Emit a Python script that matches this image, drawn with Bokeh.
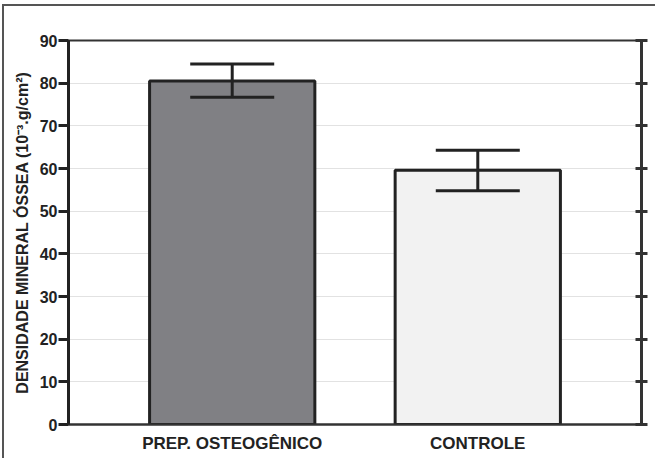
from bokeh.plotting import figure
from bokeh.models import ColumnDataSource, FactorRange, Range1d, LinearAxis, Whisker, TeeHead, FixedTicker
from bokeh.embed import file_html
from bokeh.resources import INLINE

categories = ["PREP. OSTEOGÊNICO", "CONTROLE"]
means = [80.5, 59.6]
upper = [84.5, 64.3]
lower = [76.7, 54.8]
fills = ["#808084", "#f2f2f2"]
y_ticks = [0, 10, 20, 30, 40, 50, 60, 70, 80, 90]

source = ColumnDataSource(dict(cat=categories, mean=means, upper=upper, lower=lower, fill=fills))

p = figure(width=653, height=454, output_backend="svg", toolbar_location=None,
           x_range=FactorRange(*categories, range_padding=0.1667),
           y_range=Range1d(0, 90),
           min_border_left=64, min_border_right=16, min_border_top=34, min_border_bottom=36)
p.styles = {"border-top": "2px solid #555", "border-left": "2px solid #555",
            "margin-top": "4px", "margin-left": "2px"}

p.vbar(x="cat", top="mean", width=0.673, source=source, fill_color="fill",
       line_color="#222222", line_width=3)

w = Whisker(base="cat", upper="upper", lower="lower", source=source,
            line_color="#222222", line_width=3, level="overlay",
            upper_head=TeeHead(size=84, line_color="#222222", line_width=3),
            lower_head=TeeHead(size=84, line_color="#222222", line_width=3))
p.add_layout(w)

p.outline_line_color = "#333333"
p.outline_line_width = 2
p.xgrid.grid_line_color = None
p.ygrid.grid_line_color = "#e2e2e2"
p.ygrid.ticker = FixedTicker(ticks=y_ticks)

ya = p.yaxis[0]
ya.ticker = FixedTicker(ticks=y_ticks)
ya.axis_line_width = 3
ya.axis_line_color = "#222222"
ya.major_tick_line_width = 3
ya.major_tick_line_color = "#222222"
ya.major_tick_out = 10
ya.major_tick_in = 0
ya.minor_tick_line_color = None
ya.major_label_text_font = "Liberation Sans"
ya.major_label_text_font_style = "bold"
ya.major_label_text_font_size = "16px"
ya.major_label_text_color = "#222222"
ya.major_label_standoff = 1
ya.axis_label = "DENSIDADE MINERAL ÓSSEA (10⁻³.g/cm²)"
ya.axis_label_text_font = "Liberation Sans"
ya.axis_label_text_font_style = "bold"
ya.axis_label_text_font_size = "16px"
ya.axis_label_text_color = "#222222"
ya.axis_label_standoff = 6

xa = p.xaxis[0]
xa.axis_line_width = 2
xa.axis_line_color = "#333333"
xa.major_tick_line_color = None
xa.minor_tick_line_color = None
xa.major_label_text_font = "Liberation Sans"
xa.major_label_text_font_style = "bold"
xa.major_label_text_font_size = "17px"
xa.major_label_text_color = "#222222"
xa.major_label_standoff = 3

ra = LinearAxis(ticker=FixedTicker(ticks=y_ticks))
ra.axis_line_width = 3
ra.axis_line_color = "#333333"
ra.major_tick_line_width = 3
ra.major_tick_line_color = "#333333"
ra.major_tick_in = 6
ra.major_tick_out = 6
ra.minor_tick_line_color = None
ra.major_label_text_font_size = "0px"
ra.major_label_text_color = None
p.add_layout(ra, "right")

open("out.html", "w").write(file_html(p, INLINE))
